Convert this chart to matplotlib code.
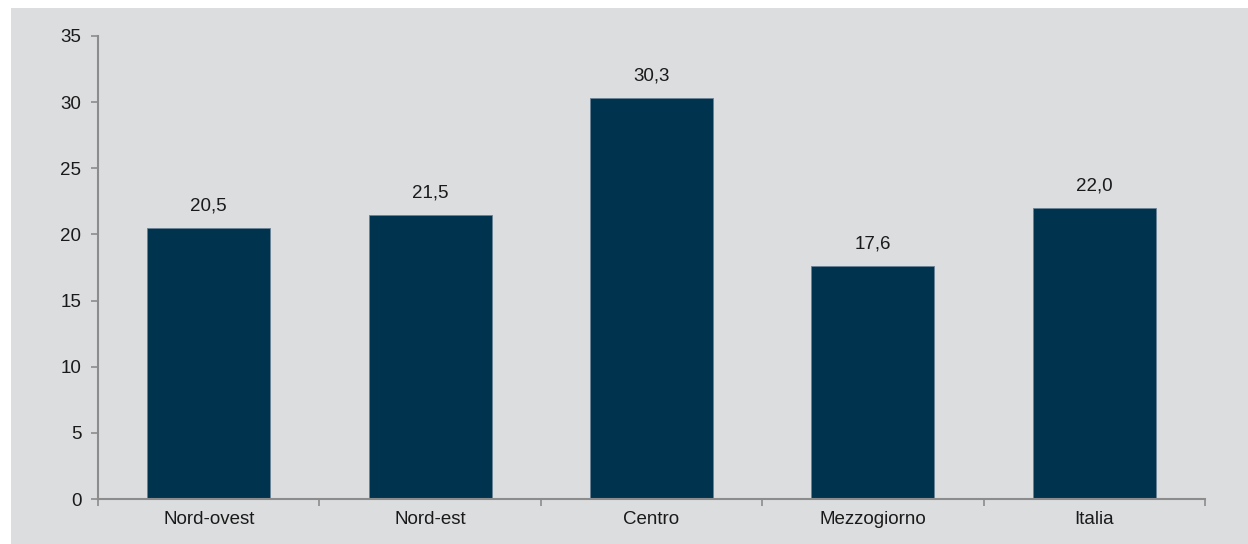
import matplotlib
matplotlib.use("Agg")
import matplotlib.pyplot as plt
from matplotlib.patches import Rectangle

categories = ["Nord-ovest", "Nord-est", "Centro", "Mezzogiorno", "Italia"]
values = [20.5, 21.5, 30.3, 17.6, 22.0]
yticks = [0, 5, 10, 15, 20, 25, 30, 35]

plt.rcParams["font.family"] = ["Liberation Sans", "DejaVu Sans"]

bg = "#DCDDDF"
bar_color = "#00334E"
axis_color = "#8C8C8C"
fs = 13.5

fig = plt.figure(figsize=(12.48, 5.44), dpi=100)
fig.patch.set_facecolor("white")
fig.patches.append(Rectangle((11 / 1248, 0), 1 - 11 / 1248, 1 - 8 / 544,
                             transform=fig.transFigure, facecolor=bg,
                             edgecolor="none", zorder=-10))

ax = fig.add_axes([98 / 1248, 1 - 499 / 544, (1205 - 98) / 1248, (499 - 36) / 544])
ax.set_facecolor(bg)

x = list(range(len(categories)))
bars = ax.bar(x, values, width=0.556, color=bar_color, edgecolor="#6A8296",
              linewidth=0.6, zorder=2)
for xi, v in zip(x, values):
    ax.text(xi, v + 1.0, f"{v:.1f}".replace(".", ","), ha="center", va="bottom",
            fontsize=fs, color="#1a1a1a")

ax.set_xlim(-0.5, len(categories) - 0.5)
ax.set_ylim(0, 35)
ax.set_yticks(yticks)
ax.set_yticklabels([str(t) for t in yticks])
ax.set_xticks(x)
ax.set_xticklabels(categories)
ax.set_xticks([i - 0.5 for i in range(len(categories) + 1)], minor=True)

for side in ["top", "right"]:
    ax.spines[side].set_visible(False)
for side in ["left", "bottom"]:
    ax.spines[side].set_color(axis_color)
    ax.spines[side].set_linewidth(1.5)

ax.tick_params(axis="y", length=5, width=1.2, color=axis_color, labelsize=fs,
               labelcolor="#1a1a1a", pad=7)
ax.tick_params(axis="x", which="major", length=0, labelsize=fs,
               labelcolor="#1a1a1a", pad=9)
ax.tick_params(axis="x", which="minor", length=5, width=1.2, color=axis_color)

fig.savefig("out.png", dpi=100, facecolor=fig.get_facecolor())
